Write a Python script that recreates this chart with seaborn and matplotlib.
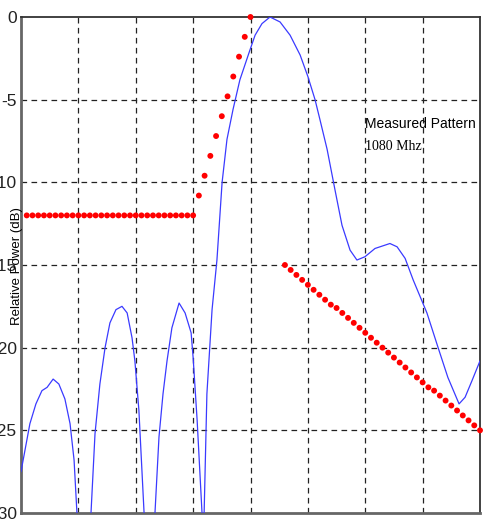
import numpy as np
import seaborn as sns
import matplotlib
matplotlib.use("Agg")
import matplotlib.pyplot as plt

# measured antenna pattern (blue), angle in degrees, power in dB
pattern_deg = [-80.0, -76.9, -74.8, -72.7, -70.9, -68.8, -66.8, -64.7, -62.9, -61.5,
               -60.5, -58.0, -55.6, -54.2, -52.5, -50.7, -49.0, -46.9, -44.8, -43.0,
               -41.3, -40.3, -38.9, -37.1, -35.0, -33.3, -31.9, -30.5, -29.1, -27.4,
               -24.9, -22.8, -20.7, -20.0, -18.6, -16.9, -16.3, -15.2, -13.4, -11.7,
               -9.9, -8.2, -6.1, -3.7, -0.2, 1.6, 4.0, 6.8, 10.3, 13.8,
               17.3, 20.0, 22.5, 24.2, 26.7, 29.5, 31.9, 34.7, 37.1, 39.9,
               43.4, 48.6, 51.1, 53.9, 56.7, 61.5, 65.4, 68.8, 72.7, 74.8,
               77.2, 80.0]
pattern_db = [-27.5, -24.6, -23.4, -22.6, -22.4, -21.9, -22.2, -23.1, -24.6, -26.8,
              -30.0, -38.0, -30.0, -25.2, -22.2, -20.0, -18.5, -17.7, -17.5, -17.9,
              -19.4, -20.8, -23.8, -30.0, -38.0, -30.0, -25.4, -22.8, -20.8, -18.8,
              -17.3, -17.9, -19.1, -20.6, -24.4, -30.0, -31.0, -22.8, -17.7, -14.7,
              -10.0, -7.4, -5.6, -3.8, -2.0, -1.1, -0.4, 0.0, -0.3, -1.1,
              -2.3, -3.6, -5.0, -6.2, -8.0, -10.5, -12.6, -14.1, -14.7, -14.5,
              -14.0, -13.7, -13.9, -14.6, -15.9, -17.9, -20.0, -21.8, -23.4, -23.0,
              -22.0, -20.8]

# red dotted mask, one dot every 2 degrees
mask_left_deg = np.arange(-78, 1, 2)
mask_left_db = [-12.0] * 30 + [-10.8, -9.6, -8.4, -7.2, -6.0, -4.8, -3.6, -2.4, -1.2, 0.0]
mask_right_deg = np.arange(12, 81, 2)
mask_right_db = [-15.0, -15.3, -15.6, -15.9, -16.2, -16.5, -16.8, -17.1, -17.4, -17.6,
                 -17.9, -18.2, -18.5, -18.8, -19.1, -19.4, -19.7, -20.0, -20.3, -20.6,
                 -20.9, -21.2, -21.5, -21.8, -22.1, -22.4, -22.6, -22.9, -23.2, -23.5,
                 -23.8, -24.1, -24.4, -24.7, -25.0]

x_grid = [-60, -40, -20, 0, 20, 40, 60]
y_ticks = [0, -5, -10, -15, -20, -25, -30]

sns.set_theme(style="white")
plt.rcParams["font.family"] = ["Liberation Sans", "DejaVu Sans"]

fig = plt.figure(figsize=(4.97, 5.19), dpi=100)
ax = fig.add_axes([21 / 497, 6 / 519, 459 / 497, 496 / 519])

sns.lineplot(x=pattern_deg, y=pattern_db, ax=ax, color="#3a3aff", lw=0.9,
             sort=False, estimator=None, zorder=3)
sns.scatterplot(x=mask_left_deg, y=mask_left_db, ax=ax, color="#ff0000", s=18,
                edgecolor="none", zorder=4, clip_on=False)
sns.scatterplot(x=mask_right_deg, y=mask_right_db, ax=ax, color="#ff0000", s=18,
                edgecolor="none", zorder=4, clip_on=False)

ax.set_xlim(-80, 80)
ax.set_ylim(-30, 0)
ax.set_xticks(x_grid)
ax.set_xticklabels([])
ax.set_yticks(y_ticks)
ax.set_yticklabels([str(t) for t in y_ticks], fontsize=12.5, color="#222222")
ax.tick_params(axis="both", length=0)
ax.tick_params(axis="y", pad=3)

for v in x_grid:
    ax.axvline(v, color="#222222", lw=0.9, ls=(0, (4.5, 3.5)), zorder=1)
for v in y_ticks[1:-1]:
    ax.axhline(v, color="#222222", lw=0.9, ls=(0, (4.5, 3.5)), zorder=1)

for side in ["top", "right"]:
    ax.spines[side].set_color("#333333")
    ax.spines[side].set_linewidth(1.3)
for side in ["left", "bottom"]:
    ax.spines[side].set_color("#666666")
    ax.spines[side].set_linewidth(2.0)

ax.text(40, -6.7, "Measured Pattern", fontsize=10, color="black", va="baseline",
        family=["Liberation Sans", "DejaVu Sans"])
ax.text(40, -8.05, "1080 Mhz", fontsize=10, color="black", va="baseline",
        family=["Liberation Serif", "DejaVu Serif"])

fig.text(17.5 / 497, 1 - 266 / 519, "Relative Power (dB)", rotation=90,
         ha="center", va="center", fontsize=9.5, color="black")

fig.savefig("out.png", dpi=100)
